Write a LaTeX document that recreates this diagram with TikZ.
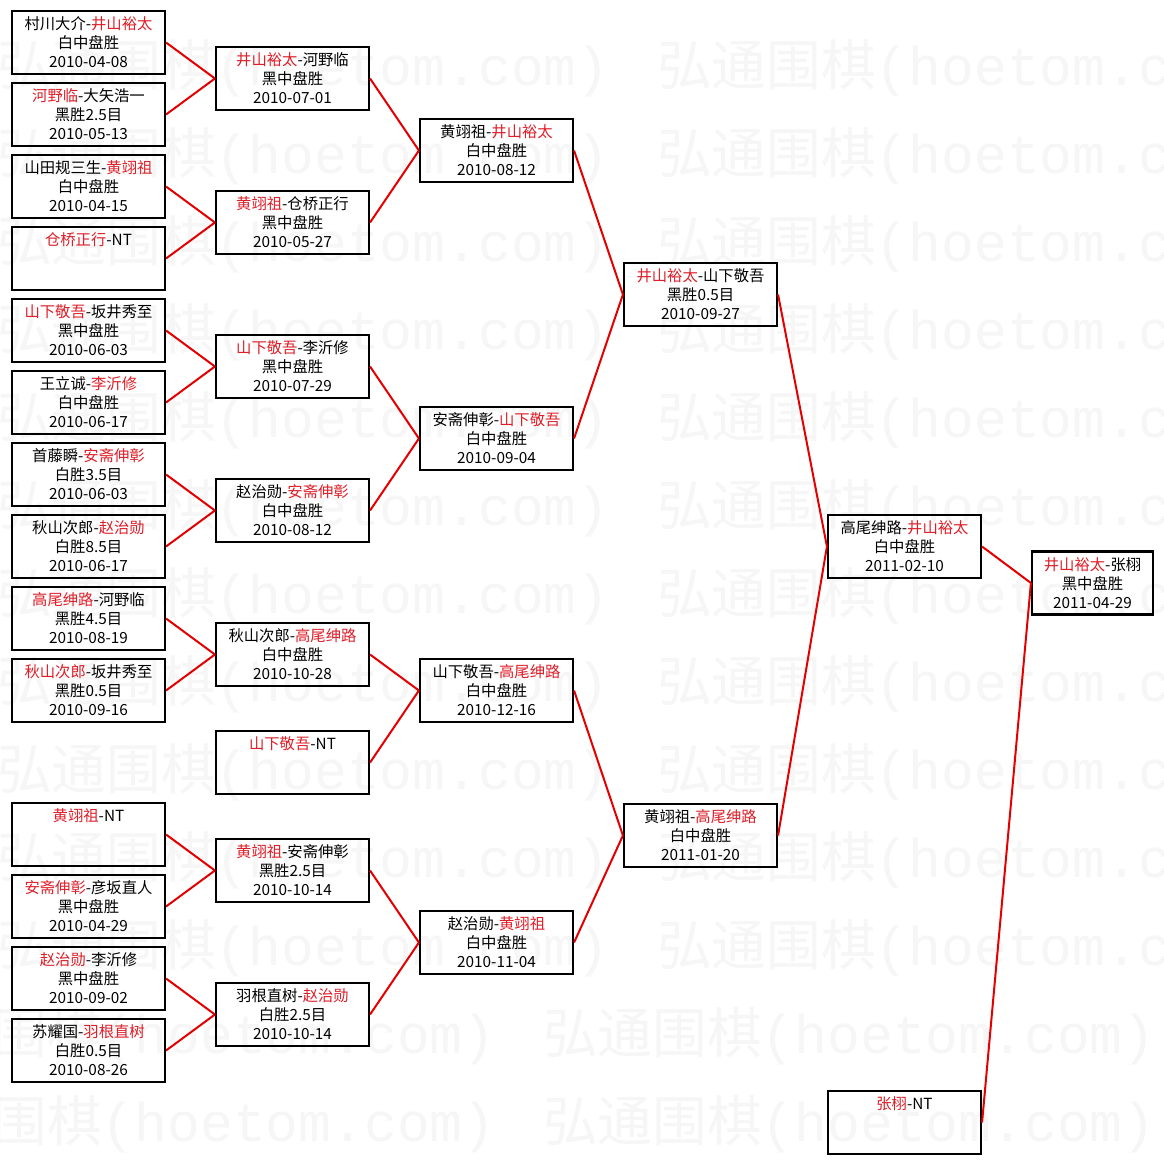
\documentclass[tikz,border=0pt]{standalone}
\usepackage{fontspec}
\setmainfont{Noto Sans CJK SC}
\newfontfamily\wmmono{Liberation Mono}
\usepackage{xcolor}
\usepackage{tikz}
\usetikzlibrary{positioning}

\definecolor{winred}{RGB}{222,30,40}
\definecolor{linkred}{RGB}{228,0,0}
\newcommand{\wn}[1]{\textcolor{winred}{#1}}

\begin{document}
\begin{tikzpicture}[
    x=0.75pt, y=-0.75pt,
    font=\fontsize{11.5pt}{14.25pt}\selectfont,
    match/.style={
        rectangle,
        draw=black,
        line width=1.6pt,
        align=center,
        minimum width=114.75pt,
        minimum height=47.25pt,
        inner sep=0pt
    },
    final/.style={match, minimum width=90.75pt},
    link/.style={draw=linkred, line width=1.5pt},
    wmark/.style={anchor=west, inner sep=0pt, text=black!3.5,
        font=\fontsize{41pt}{41pt}\selectfont}
]

% Background and watermark
\fill[white] (0,0) rectangle (1164,1165);
\useasboundingbox (0,0) rectangle (1164,1165);
\foreach \row/\dx in {0/0,1/0,2/0,3/0,4/0,5/0,6/0,7/0,8/0,9/0,10/0,11/-114,12/-114} {
    \node (wm\row a) [wmark] at (-3+\dx, 68+88*\row) {弘通围棋{\wmmono(hoetom.com)}};
    \node (wm\row b) [wmark] at (657+\dx, 68+88*\row) {弘通围棋{\wmmono(hoetom.com)}};
}

% Round 1
\node (a1) [match] at (88.5, 42.5) {村川大介-\wn{井山裕太}\\白中盘胜\\2010-04-08};
\node (a2) [match] at (88.5, 114.5) {\wn{河野临}-大矢浩一\\黑胜2.5目\\2010-05-13};
\node (a3) [match] at (88.5, 186.5) {山田规三生-\wn{黄翊祖}\\白中盘胜\\2010-04-15};
\node (a4) [match] at (88.5, 258.5) {\wn{仓桥正行}-NT\\~\\~};
\node (a5) [match] at (88.5, 330.5) {\wn{山下敬吾}-坂井秀至\\黑中盘胜\\2010-06-03};
\node (a6) [match] at (88.5, 402.5) {王立诚-\wn{李沂修}\\白中盘胜\\2010-06-17};
\node (a7) [match] at (88.5, 474.5) {首藤瞬-\wn{安斋伸彰}\\白胜3.5目\\2010-06-03};
\node (a8) [match] at (88.5, 546.5) {秋山次郎-\wn{赵治勋}\\白胜8.5目\\2010-06-17};
\node (a9) [match] at (88.5, 618.5) {\wn{高尾绅路}-河野临\\黑胜4.5目\\2010-08-19};
\node (a10) [match] at (88.5, 690.5) {\wn{秋山次郎}-坂井秀至\\黑胜0.5目\\2010-09-16};
\node (a11) [match] at (88.5, 834.5) {\wn{黄翊祖}-NT\\~\\~};
\node (a12) [match] at (88.5, 906.5) {\wn{安斋伸彰}-彦坂直人\\黑中盘胜\\2010-04-29};
\node (a13) [match] at (88.5, 978.5) {\wn{赵治勋}-李沂修\\黑中盘胜\\2010-09-02};
\node (a14) [match] at (88.5, 1050.5) {苏耀国-\wn{羽根直树}\\白胜0.5目\\2010-08-26};

% Round 2
\node (b1) [match] at (292.5, 78.5) {\wn{井山裕太}-河野临\\黑中盘胜\\2010-07-01};
\node (b2) [match] at (292.5, 222.5) {\wn{黄翊祖}-仓桥正行\\黑中盘胜\\2010-05-27};
\node (b3) [match] at (292.5, 366.5) {\wn{山下敬吾}-李沂修\\黑中盘胜\\2010-07-29};
\node (b4) [match] at (292.5, 510.5) {赵治勋-\wn{安斋伸彰}\\白中盘胜\\2010-08-12};
\node (b5) [match] at (292.5, 654.5) {秋山次郎-\wn{高尾绅路}\\白中盘胜\\2010-10-28};
\node (b6) [match] at (292.5, 762.5) {\wn{山下敬吾}-NT\\~\\~};
\node (b7) [match] at (292.5, 870.5) {\wn{黄翊祖}-安斋伸彰\\黑胜2.5目\\2010-10-14};
\node (b8) [match] at (292.5, 1014.5) {羽根直树-\wn{赵治勋}\\白胜2.5目\\2010-10-14};

% Round 3
\node (c1) [match] at (496.5, 150.5) {黄翊祖-\wn{井山裕太}\\白中盘胜\\2010-08-12};
\node (c2) [match] at (496.5, 438.5) {安斋伸彰-\wn{山下敬吾}\\白中盘胜\\2010-09-04};
\node (c3) [match] at (496.5, 690.5) {山下敬吾-\wn{高尾绅路}\\白中盘胜\\2010-12-16};
\node (c4) [match] at (496.5, 942.5) {赵治勋-\wn{黄翊祖}\\白中盘胜\\2010-11-04};

% Round 4
\node (d1) [match] at (700.5, 294.5) {\wn{井山裕太}-山下敬吾\\黑胜0.5目\\2010-09-27};
\node (d2) [match] at (700.5, 835.5) {黄翊祖-\wn{高尾绅路}\\白中盘胜\\2011-01-20};

% Round 5
\node (e1) [match] at (904.5, 546.5) {高尾绅路-\wn{井山裕太}\\白中盘胜\\2011-02-10};
\node (e2) [match] at (904.5, 1122.5) {\wn{张栩}-NT\\~\\~};

% Final
\node (f) [final] at (1092.5, 583) {\wn{井山裕太}-张栩\\黑中盘胜\\2011-04-29};

% Links
\foreach \from/\to in {a1/b1, a2/b1, a3/b2, a4/b2, a5/b3, a6/b3, a7/b4, a8/b4,
    a9/b5, a10/b5, a11/b7, a12/b7, a13/b8, a14/b8,
    b1/c1, b2/c1, b3/c2, b4/c2, b5/c3, b6/c3, b7/c4, b8/c4,
    c1/d1, c2/d1, c3/d2, c4/d2, d1/e1, d2/e1, e1/f, e2/f}
    \draw [link] (\from.east) -- (\to.west);

\end{tikzpicture}
\end{document}
